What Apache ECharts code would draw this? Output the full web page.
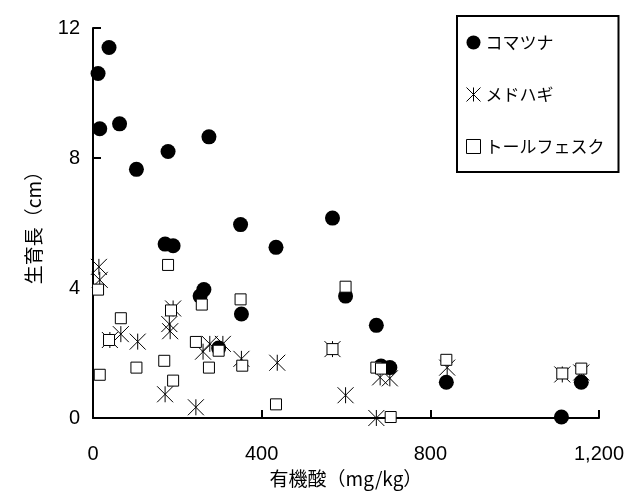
<!DOCTYPE html>
<html>
<head>
<meta charset="utf-8">
<script src="https://cdn.jsdelivr.net/npm/echarts@6/dist/echarts.min.js"></script>
<style>html,body{margin:0;padding:0;background:#fff;}#c{width:627px;height:493px;}</style>
</head>
<body>
<div id="c"></div>
<script>
// Data (x: 有機酸 mg/kg, y: 生育長 cm)
var komatsuna = [[38,11.4],[12,10.6],[16,8.9],[63,9.05],[103,7.65],[178,8.2],[275,8.65],[171,5.35],[190,5.3],[254,3.75],[263,3.95],[298,2.15],[352,3.2],[350,5.95],[568,6.15],[434,5.25],[599,3.75],[672,2.85],[683,1.6],[704,1.55],[838,1.1],[1111,0.03],[1158,1.1]];
var medohagi = [[14,4.65],[16,4.25],[40,2.4],[66,2.58],[106,2.35],[181,2.89],[190,3.37],[183,2.67],[277,2.28],[308,2.28],[261,2.04],[352,1.82],[171,0.73],[244,0.33],[437,1.7],[568,2.12],[599,0.7],[681,1.25],[704,1.22],[672,0.0],[840,1.55],[1113,1.34],[1158,1.4]];
var fescue = [[12,3.95],[66,3.07],[38,2.4],[16,1.33],[103,1.55],[178,4.71],[185,3.31],[169,1.76],[190,1.15],[258,3.49],[244,2.34],[275,1.55],[298,2.07],[350,3.65],[354,1.61],[434,0.42],[599,4.04],[568,2.12],[672,1.55],[683,1.52],[706,0.03],[838,1.79],[1113,1.37],[1158,1.52]];
var seriesNames = ['コマツナ','メドハギ','トールフェスク'];
var xTicks = [0,400,800,1200];
var yTicks = [0,4,8,12];

var ASTER = 'path://M0,0L10,10M10,0L0,10M5,0L5,10';
var chart = echarts.init(document.getElementById('c'), null, {renderer:'canvas'});
var numFont = 'Liberation Sans';
var jpFont = 'Noto Sans CJK JP';
chart.setOption({
  animation:false,
  backgroundColor:'#fff',
  grid:{left:93, right:23, top:28, bottom:70, containLabel:false},
  xAxis:{
    type:'value', min:xTicks[0], max:xTicks[xTicks.length-1], interval:400,
    name:'有機酸（mg/kg）', nameLocation:'middle', nameGap:51,
    nameTextStyle:{fontFamily:jpFont, fontSize:19, color:'#000'},
    axisLine:{show:true, onZero:false, lineStyle:{color:'#000', width:2}},
    axisTick:{show:true, inside:true, length:8, lineStyle:{color:'#000', width:2}},
    axisLabel:{fontFamily:numFont, fontSize:20, color:'#000', margin:26,
      formatter:function(v){return v.toLocaleString('en-US');}},
    splitLine:{show:false}
  },
  yAxis:{
    type:'value', min:yTicks[0], max:yTicks[yTicks.length-1], interval:4,
    name:'生育長（cm）', nameLocation:'middle', nameGap:50, nameRotate:90,
    nameTextStyle:{fontFamily:jpFont, fontSize:19, color:'#000'},
    axisLine:{show:true, onZero:false, lineStyle:{color:'#000', width:2}},
    axisTick:{show:true, inside:true, length:8, lineStyle:{color:'#000', width:2}},
    axisLabel:{fontFamily:numFont, fontSize:20, color:'#000', margin:13},
    splitLine:{show:false}
  },
  legend:{
    orient:'vertical', left:457, top:16,
    padding:[18,14,17,9], itemGap:35,
    itemWidth:14, itemHeight:14, itemStyle:{borderWidth:1},
    borderColor:'#000', borderWidth:2, backgroundColor:'#fff',
    textStyle:{fontFamily:jpFont, fontSize:17, color:'#000'},
    data:[
      {name:seriesNames[0], icon:'circle'},
      {name:seriesNames[1], icon:ASTER},
      {name:seriesNames[2], icon:'rect'}
    ],
    selectedMode:false
  },
  series:[
    {name:seriesNames[0], type:'scatter', data:komatsuna, symbol:'circle', symbolSize:15,
      itemStyle:{color:'#000', opacity:1}, emphasis:{disabled:true}, z:2},
    {name:seriesNames[1], type:'scatter', data:medohagi, symbol:ASTER, symbolSize:16,
      itemStyle:{color:'rgba(0,0,0,0)', borderColor:'#000', borderWidth:1, opacity:1}, emphasis:{disabled:true}, z:3},
    {name:seriesNames[2], type:'scatter', data:fescue, symbol:'rect', symbolSize:11,
      itemStyle:{color:'#fff', borderColor:'#000', borderWidth:1, opacity:1}, emphasis:{disabled:true}, z:4}
  ]
});
</script>
</body>
</html>
